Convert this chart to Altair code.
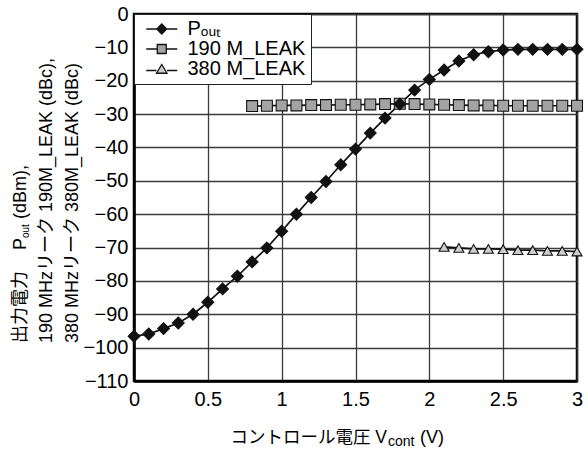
import altair as alt
import pandas as pd

# ---- data -------------------------------------------------------------
series_names = ["Pₒᵤₜ", "190 M_LEAK", "380 M_LEAK"]

vcont_pout = [0.0, 0.1, 0.2, 0.3, 0.4, 0.5, 0.6, 0.7, 0.8, 0.9, 1.0,
              1.1, 1.2, 1.3, 1.4, 1.5, 1.6, 1.7, 1.8, 1.9, 2.0,
              2.1, 2.2, 2.3, 2.4, 2.5, 2.6, 2.7, 2.8, 2.9, 3.0]
pout_dbm = [-96.6, -95.9, -94.3, -92.6, -90.0, -86.4, -82.4, -78.6, -74.3, -70.1, -65.1,
            -60.0, -55.0, -50.2, -45.2, -40.5, -35.7, -31.2, -27.0, -22.8, -19.6,
            -16.8, -14.1, -12.2, -11.3, -10.8, -10.6, -10.6, -10.6, -10.6, -10.6]

vcont_190 = [0.8, 0.9, 1.0, 1.1, 1.2, 1.3, 1.4, 1.5, 1.6, 1.7, 1.8, 1.9,
             2.0, 2.1, 2.2, 2.3, 2.4, 2.5, 2.6, 2.7, 2.8, 2.9, 3.0]
leak_190 = [-27.6, -27.5, -27.4, -27.4, -27.3, -27.3, -27.2, -27.2, -27.1, -27.0, -26.9, -27.0,
            -27.1, -27.2, -27.3, -27.4, -27.4, -27.5, -27.5, -27.5, -27.5, -27.5, -27.5]

vcont_380 = [2.1, 2.2, 2.3, 2.4, 2.5, 2.6, 2.7, 2.8, 2.9, 3.0]
leak_380 = [-69.8, -70.1, -70.4, -70.4, -70.5, -70.8, -70.8, -71.0, -71.0, -71.2]

x_ticks = [0, 0.5, 1, 1.5, 2, 2.5, 3]
y_ticks = [-110, -100, -90, -80, -70, -60, -50, -40, -30, -20, -10, 0]

x_title_parts = ["コントロール電圧  V", "cont", "(V)"]
y_title_line1 = ["出力電力", "P", "out", "(dBm),"]
y_title_line2 = "190 MHzリーク  190M_LEAK (dBc),"
y_title_line3 = "380 MHzリーク  380M_LEAK (dBc)"

# ---- styling ----------------------------------------------------------
FONT = "Liberation Sans, Arial, Noto Sans CJK JP, sans-serif"
W, H = 443, 367
INK = "#111111"

rows = []
for name, xs, ys in [(series_names[1], vcont_190, leak_190),
                     (series_names[2], vcont_380, leak_380),
                     (series_names[0], vcont_pout, pout_dbm)]:
    rows += [{"series": name, "vcont": x, "level": y} for x, y in zip(xs, ys)]
df = pd.DataFrame(rows)

x_enc = alt.X("vcont:Q",
              scale=alt.Scale(domain=[0, 3], nice=False, zero=False),
              axis=alt.Axis(values=x_ticks, format="~g", title=None, ticks=False,
                            labelFontSize=20, labelFont=FONT, labelColor="black",
                            labelPadding=8, labelFlush=False,
                            grid=True, gridColor="#3a3a3a", gridWidth=1.3,
                            domainColor="black", domainWidth=2.5))
y_enc = alt.Y("level:Q",
              scale=alt.Scale(domain=[-110, 0], nice=False, zero=False),
              axis=alt.Axis(values=y_ticks, title=None, ticks=False,
                            labelFontSize=20, labelFont=FONT, labelColor="black",
                            labelPadding=6, labelFlush=False,
                            grid=True, gridColor="#3a3a3a", gridWidth=1.3,
                            domainColor="black", domainWidth=2.5))

base = alt.Chart(df)

lines = base.mark_line(strokeWidth=1.7).encode(
    x=x_enc, y=y_enc, detail="series:N",
    color=alt.value(INK),
)

shape_scale = alt.Scale(domain=series_names, range=["diamond", "square", "triangle-up"])
fill_scale = alt.Scale(domain=series_names, range=[INK, "#a3a3a3", "#cdcdcd"])

points = base.mark_point(filled=True, stroke=INK, strokeWidth=1.1, opacity=1).encode(
    x=x_enc, y=y_enc,
    shape=alt.Shape("series:N", scale=shape_scale, legend=None),
    fill=alt.Fill("series:N", scale=fill_scale, legend=None),
    size=alt.Size("series:N", scale=alt.Scale(domain=series_names, range=[140, 100, 120]), legend=None),
)

# legend glyphs: marker with a short line on either side (shifted right inside the entry)
legend_paths = [
    "M-0.55,0H1.55M3.55,0H5.65M2.55,-1L3.55,0L2.55,1L1.55,0Z",
    "M-0.55,0H1.65M3.45,0H5.65M1.65,-0.9H3.45V0.9H1.65Z",
    "M-0.55,0.3H1.5M3.6,0.3H5.65M2.55,-0.9L3.6,0.85H1.5Z",
]
legend_kw = dict(
    title=None, orient="top-left", offset=0, padding=5,
    fillColor="white", strokeColor="#222222",
    labelFontSize=20, labelFont=FONT, labelColor="black",
    symbolSize=100, symbolStrokeWidth=1.3,
    labelOffset=28.5, rowPadding=0,
)
legend_layer = base.transform_filter("datum.level > 100").mark_point(
    filled=True, strokeWidth=1.3, opacity=1
).encode(
    x=x_enc, y=y_enc,
    shape=alt.Shape("series:N", scale=alt.Scale(domain=series_names, range=legend_paths),
                    legend=alt.Legend(**legend_kw)),
    fill=alt.Fill("series:N", scale=fill_scale, legend=alt.Legend(**legend_kw)),
    stroke=alt.Stroke("series:N", scale=alt.Scale(domain=series_names, range=[INK, INK, INK]),
                      legend=alt.Legend(**legend_kw)),
)


def text_piece(text, x, y, size, angle=0, align="left"):
    return alt.Chart(pd.DataFrame({"t": [text]})).mark_text(
        font=FONT, fontSize=size, align=align, baseline="alphabetic",
        angle=angle, color="black",
    ).encode(x=alt.value(x), y=alt.value(y), text="t:N")


# x-axis title with subscript
x_title = [
    text_piece(x_title_parts[0], 253, 429, 17.5, align="right"),
    text_piece(x_title_parts[1], 254, 432, 14),
    text_piece(x_title_parts[2], 286, 429, 18),
]

# rotated y-axis title, three lines
y_title = [
    text_piece(y_title_line1[0], -108, 329, 18, angle=270),
    text_piece(y_title_line1[1], -108, 236, 18, angle=270),
    text_piece(y_title_line1[2], -105, 224, 10, angle=270),
    text_piece(y_title_line1[3], -108, 205, 18, angle=270),
    text_piece(y_title_line2, -82, 329, 18, angle=270),
    text_piece(y_title_line3, -56, 329, 18, angle=270),
]

chart = alt.layer(
    lines, points, legend_layer, *x_title, *y_title
).resolve_scale(
    shape="independent", fill="independent", stroke="independent"
).properties(
    width=W, height=H,
    padding={"left": 134, "top": 14, "right": 11, "bottom": 71},
    autosize=alt.AutoSizeParams(type="none"),
    background="white",
).configure_view(
    stroke="black", strokeWidth=2.5
)

chart.save("out.html", embed_options={"renderer": "svg", "actions": False})
